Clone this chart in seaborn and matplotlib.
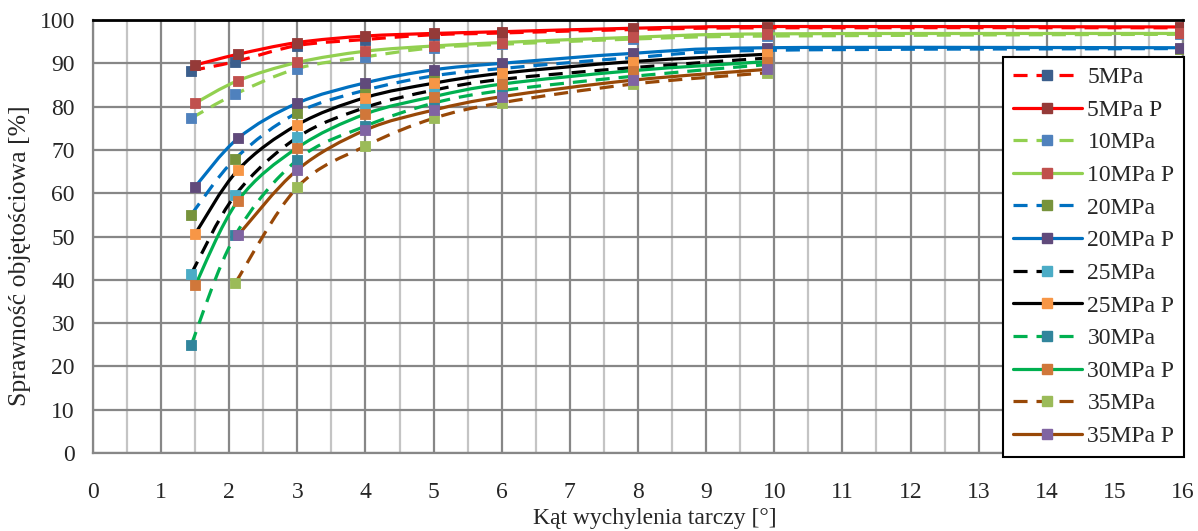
import numpy as np
import matplotlib
matplotlib.use("Agg")
import matplotlib.pyplot as plt
import seaborn as sns
from matplotlib.path import Path
from matplotlib.patches import PathPatch
from matplotlib.lines import Line2D

# katy wychylenia (pomiar i model P)
x_meas = [1.44, 2.09, 3.0, 4.0, 5.0, 6.0, 7.92, 9.89, 15.95]
x_pred = [1.5, 2.13, 3.0, 4.0, 5.0, 6.0, 7.92, 9.89, 15.95]

eff_5 = [88.3, 90.4, 94.1, 95.5, 96.6, 97.0, 97.8, 98.2, 98.2]
eff_5p = [89.6, 92.1, 94.8, 96.3, 96.9, 97.3, 98.1, 98.5, 98.4]
eff_10 = [77.3, 82.9, 88.8, 91.5, 93.6, 94.4, 95.6, 96.3, 96.7]
eff_10p = [80.8, 86.0, 90.2, 92.8, 94.0, 94.8, 96.0, 96.8, 96.9]
eff_20 = [55.0, 68.0, 78.6, 83.8, 87.1, 88.8, 91.3, 93.0, 93.4]
eff_20p = [61.5, 72.7, 80.8, 85.5, 88.5, 90.0, 92.3, 93.6, 93.6]
eff_25 = [41.3, 59.6, 72.9, 79.8, 83.8, 86.3, 89.0, 91.2]
eff_25p = [50.6, 65.4, 75.8, 82.1, 85.4, 87.7, 90.4, 92.1]
eff_30 = [24.9, 50.3, 67.7, 75.5, 80.8, 83.7, 87.0, 89.7]
eff_30p = [38.7, 58.3, 70.5, 78.3, 82.3, 85.2, 88.3, 90.4]
eff_35 = [39.3, 61.4, 70.9, 77.3, 80.9, 85.2, 87.8]
eff_35p = [50.3, 65.4, 74.6, 79.2, 82.3, 86.1, 88.6]

labels = ["5MPa", "5MPa P", "10MPa", "10MPa P", "20MPa", "20MPa P",
          "25MPa", "25MPa P", "30MPa", "30MPa P", "35MPa", "35MPa P"]
line_colors = ["#FF0000", "#FF0000", "#92D050", "#92D050", "#0070C0", "#0070C0",
               "#000000", "#000000", "#00B050", "#00B050", "#984807", "#984807"]
marker_colors = ["#3B5E8C", "#953A38", "#4F81BD", "#C0504D", "#77933C", "#604A7B",
                 "#4BACC6", "#F79646", "#31859C", "#D0773A", "#9BBB59", "#8064A2"]

series = [
    (x_meas, eff_5), (x_pred, eff_5p),
    (x_meas, eff_10), (x_pred, eff_10p),
    (x_meas, eff_20), (x_pred, eff_20p),
    (x_meas[:8], eff_25), (x_pred[:8], eff_25p),
    (x_meas[:8], eff_30), (x_pred[:8], eff_30p),
    (x_meas[1:8], eff_35), (x_pred[1:8], eff_35p),
]


def smooth_path(xs, ys):
    # wygladzona linia jak w Excelu (Bezier przez punkty)
    pts = np.column_stack([xs, ys]).astype(float)
    n = len(pts)
    verts = [pts[0]]
    codes = [Path.MOVETO]
    for i in range(n - 1):
        p0 = pts[i - 1] if i > 0 else pts[i]
        p1 = pts[i]
        p2 = pts[i + 1]
        p3 = pts[i + 2] if i + 2 < n else pts[i + 1]
        verts += [p1 + (p2 - p0) / 6, p2 - (p3 - p1) / 6, p2]
        codes += [Path.CURVE4] * 3
    return Path(verts, codes)


sns.set_style("white")
plt.rcParams["font.family"] = ["Liberation Serif", "DejaVu Serif"]

fig = plt.figure(figsize=(11.98, 5.31), dpi=100)
ax = fig.add_axes([0.0776, 0.1469, 0.9099, 0.8154])

dash = (0, (4.4, 2.8))
lw = 2.3

for i, ((xs, ys), lc) in enumerate(zip(series, line_colors)):
    ls = dash if i % 2 == 0 else "solid"
    patch = PathPatch(smooth_path(xs, ys), fill=False, edgecolor=lc, lw=lw,
                      linestyle=ls, capstyle="butt", zorder=2 + i * 0.01)
    ax.add_patch(patch)

for i, ((xs, ys), mc) in enumerate(zip(series, marker_colors)):
    sns.scatterplot(x=xs, y=ys, marker="s", s=55, color=mc, edgecolor=mc,
                    linewidth=0.6, ax=ax, zorder=3 + i * 0.01, legend=False)

ax.set_xlim(0, 16)
ax.set_ylim(0, 100)
ax.set_xticks(range(0, 17))
ax.set_xticks(np.arange(0.5, 16, 1), minor=True)
ax.set_yticks(range(0, 101, 10))
ax.grid(which="major", color="#878787", lw=1.6, zorder=0)
ax.grid(which="minor", axis="x", color="#C4C4C4", lw=1.6, zorder=0)
ax.set_axisbelow(True)
ax.tick_params(which="both", length=0, labelsize=17)
ax.tick_params(axis="x", pad=21)
ax.tick_params(axis="y", pad=13)

for side in ["left", "bottom", "right"]:
    ax.spines[side].set_color("#878787")
    ax.spines[side].set_linewidth(1.6)
ax.spines["top"].set_color("black")
ax.spines["top"].set_linewidth(2)

ax.set_xlabel("Kąt wychylenia tarczy [°]", fontsize=17, va="center")
ax.set_ylabel("Sprawność objętościowa [%]", fontsize=18.5, va="center")
ax.xaxis.set_label_coords(0.515, -0.152)
ax.yaxis.set_label_coords(-0.067, 0.455)

handles = []
for i, (lc, mc) in enumerate(zip(line_colors, marker_colors)):
    ls = dash if i % 2 == 0 else "solid"
    handles.append(Line2D([], [], color=lc, lw=lw, linestyle=ls, marker="s",
                          markersize=7.4, markerfacecolor=mc, markeredgecolor=mc))

leg = ax.legend(handles, labels, loc="upper left", bbox_to_anchor=(0.835, 0.914),
                fontsize=17, frameon=True, fancybox=False, framealpha=1,
                edgecolor="black", handlelength=2.95, handletextpad=0.22,
                labelspacing=0.47, borderpad=0.4, borderaxespad=0)
leg.get_frame().set_linewidth(1.5)
leg.set_zorder(10)

fig.savefig("out.png", dpi=100)
